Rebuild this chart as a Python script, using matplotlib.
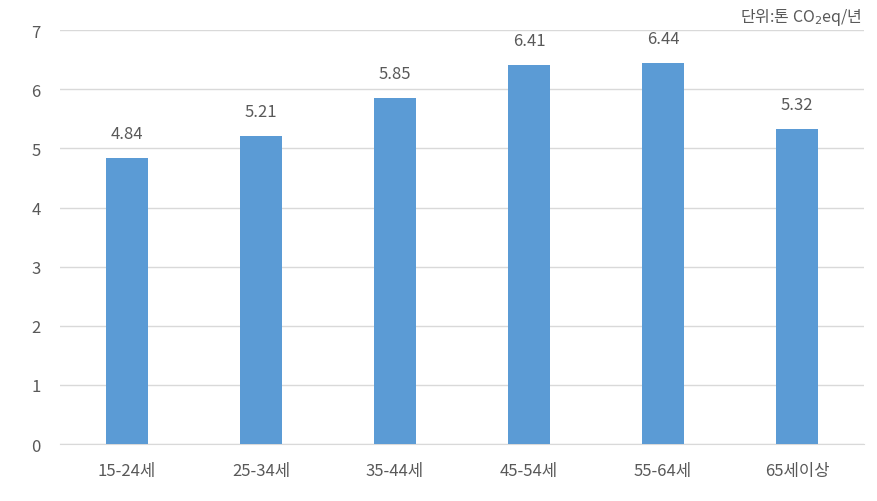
import matplotlib
matplotlib.use('Agg')
import matplotlib.pyplot as plt
import numpy as np

plt.rcParams['font.family'] = ['Noto Sans CJK KR', 'DejaVu Sans']

categories = ['15-24세', '25-34세', '35-44세', '45-54세', '55-64세', '65세이상']
values = [4.84, 5.21, 5.85, 6.41, 6.44, 5.32]
yticks = [0, 1, 2, 3, 4, 5, 6, 7]

text_color = '#595959'
bar_color = '#5B9BD5'

fig = plt.figure(figsize=(8.78, 5.02), dpi=100)
ax = fig.add_axes([0.0683, 0.1135, 0.9157, 0.8245])

x = np.arange(len(categories))
ax.bar(x, values, width=0.31, color=bar_color, zorder=3)
for xi, v in zip(x, values):
    ax.text(xi, v + 0.27, f'{v:.2f}', ha='center', va='bottom',
            fontsize=12, color=text_color)

ax.set_xlim(-0.5, len(categories) - 0.5)
ax.set_ylim(0, 7)
ax.set_yticks(yticks)
ax.set_xticks(x)
ax.set_xticklabels(categories)
ax.tick_params(axis='both', length=0, labelsize=12, labelcolor=text_color)
ax.tick_params(axis='x', pad=13)
ax.tick_params(axis='y', pad=14)
ax.grid(axis='y', color='#D9D9D9', linewidth=1, zorder=0)
for s in ['top', 'right', 'left']:
    ax.spines[s].set_visible(False)
ax.spines['bottom'].set_color('#D9D9D9')

fig.text(0.982, 0.965, '단위:톤 CO$_2$eq/년', ha='right', va='center',
         fontsize=11.5, color=text_color)

fig.savefig('out.png', dpi=100)
